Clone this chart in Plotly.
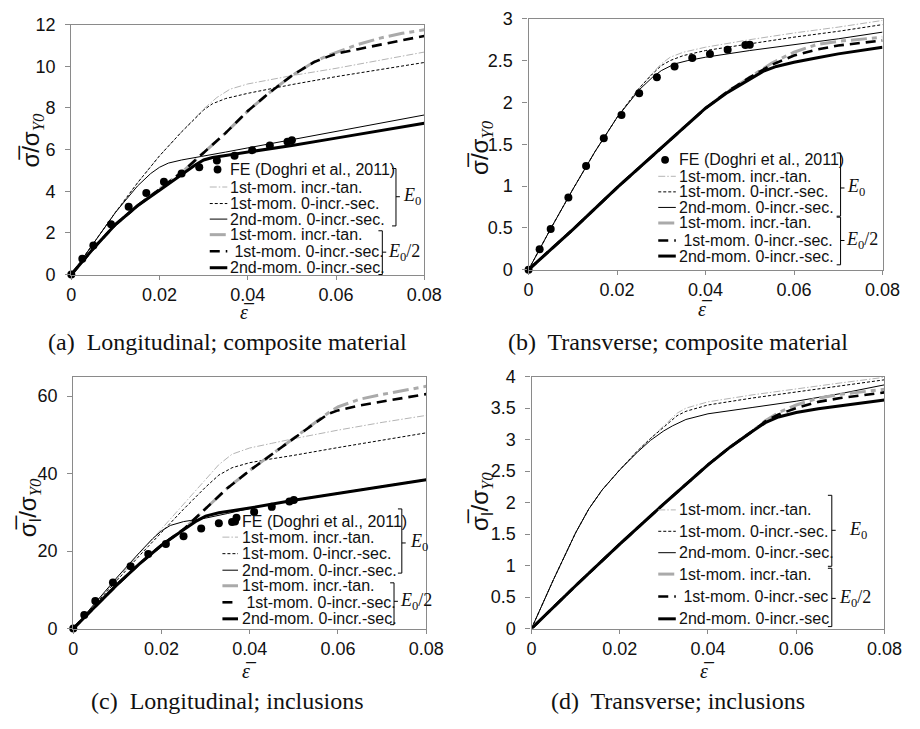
import plotly.graph_objects as go

W, H = 920, 729

# ---------------- DATA ----------------
x_ticks = [0, 0.02, 0.04, 0.06, 0.08]
x_tick_labels = ["0", "0.02", "0.04", "0.06", "0.08"]

# Panel (a) Longitudinal; composite material
fe_a_x = [0, 0.0025, 0.005, 0.009, 0.013, 0.017, 0.021, 0.025, 0.029, 0.033, 0.037, 0.041, 0.045, 0.049, 0.050]
fe_a_y = [0, 0.76, 1.4, 2.41, 3.25, 3.92, 4.46, 4.85, 5.15, 5.47, 5.7, 5.97, 6.2, 6.37, 6.45]
a_e0_tan_x = [0, 0.005, 0.01, 0.015, 0.02, 0.025, 0.03, 0.033, 0.036, 0.04, 0.045, 0.05, 0.06, 0.07, 0.08]
a_e0_tan_y = [0, 1.52, 2.98, 4.4, 5.7, 6.85, 7.95, 8.5, 8.9, 9.15, 9.35, 9.55, 9.9, 10.3, 10.68]
a_e0_sec_x = [0, 0.005, 0.01, 0.015, 0.02, 0.025, 0.03, 0.032, 0.035, 0.04, 0.045, 0.05, 0.06, 0.07, 0.08]
a_e0_sec_y = [0, 1.52, 2.98, 4.4, 5.7, 6.85, 7.9, 8.2, 8.45, 8.7, 8.92, 9.12, 9.5, 9.85, 10.18]
a_e0_2nd_x = [0, 0.005, 0.01, 0.015, 0.018, 0.02, 0.022, 0.025, 0.03, 0.035, 0.04, 0.05, 0.06, 0.07, 0.08]
a_e0_2nd_y = [0, 1.52, 2.98, 4.25, 4.85, 5.15, 5.35, 5.5, 5.68, 5.88, 6.08, 6.48, 6.87, 7.26, 7.66]
a_h_tan_x = [0, 0.005, 0.01, 0.015, 0.02, 0.025, 0.03, 0.035, 0.04, 0.045, 0.05, 0.055, 0.058, 0.06, 0.065, 0.07, 0.075, 0.08]
a_h_tan_y = [0, 1.25, 2.4, 3.3, 4.1, 4.9, 5.85, 6.8, 7.85, 8.75, 9.55, 10.2, 10.5, 10.65, 11.05, 11.35, 11.58, 11.75]
a_h_sec_x = [0, 0.005, 0.01, 0.015, 0.02, 0.025, 0.03, 0.035, 0.04, 0.045, 0.05, 0.055, 0.058, 0.06, 0.065, 0.07, 0.075, 0.08]
a_h_sec_y = [0, 1.25, 2.4, 3.3, 4.1, 4.9, 5.85, 6.8, 7.85, 8.75, 9.55, 10.2, 10.45, 10.6, 10.82, 11.05, 11.25, 11.45]
a_h_2nd_x = [0, 0.005, 0.01, 0.015, 0.02, 0.025, 0.028, 0.03, 0.032, 0.035, 0.04, 0.05, 0.06, 0.07, 0.08]
a_h_2nd_y = [0, 1.25, 2.4, 3.3, 4.05, 4.8, 5.25, 5.5, 5.62, 5.72, 5.87, 6.2, 6.55, 6.9, 7.26]

# Panel (b) Transverse; composite material
fe_b_x = [0, 0.0025, 0.005, 0.009, 0.013, 0.017, 0.021, 0.025, 0.029, 0.033, 0.037, 0.041, 0.045, 0.049, 0.050]
fe_b_y = [0, 0.245, 0.486, 0.863, 1.24, 1.57, 1.85, 2.11, 2.30, 2.43, 2.53, 2.58, 2.63, 2.685, 2.69]
b_e0_tan_x = [0, 0.005, 0.01, 0.015, 0.02, 0.025, 0.028, 0.03, 0.032, 0.035, 0.04, 0.05, 0.06, 0.07, 0.08]
b_e0_tan_y = [0, 0.49, 0.96, 1.41, 1.82, 2.17, 2.35, 2.46, 2.54, 2.6, 2.66, 2.75, 2.83, 2.9, 2.98]
b_e0_sec_x = [0, 0.005, 0.01, 0.015, 0.02, 0.025, 0.028, 0.03, 0.032, 0.035, 0.04, 0.05, 0.06, 0.07, 0.08]
b_e0_sec_y = [0, 0.49, 0.96, 1.41, 1.82, 2.17, 2.34, 2.44, 2.5, 2.56, 2.62, 2.7, 2.78, 2.85, 2.93]
b_e0_2nd_x = [0, 0.005, 0.01, 0.015, 0.02, 0.025, 0.028, 0.03, 0.033, 0.036, 0.04, 0.05, 0.06, 0.07, 0.08]
b_e0_2nd_y = [0, 0.49, 0.96, 1.41, 1.82, 2.15, 2.3, 2.38, 2.46, 2.5, 2.54, 2.62, 2.69, 2.76, 2.84]
b_h_tan_x = [0, 0.01, 0.02, 0.03, 0.04, 0.045, 0.05, 0.055, 0.06, 0.065, 0.07, 0.08]
b_h_tan_y = [0, 0.48, 0.98, 1.46, 1.93, 2.13, 2.3, 2.47, 2.6, 2.69, 2.73, 2.78]
b_h_sec_x = [0, 0.01, 0.02, 0.03, 0.04, 0.045, 0.05, 0.055, 0.06, 0.065, 0.07, 0.08]
b_h_sec_y = [0, 0.48, 0.98, 1.46, 1.93, 2.13, 2.3, 2.45, 2.56, 2.63, 2.68, 2.74]
b_h_2nd_x = [0, 0.01, 0.02, 0.03, 0.04, 0.045, 0.05, 0.053, 0.056, 0.06, 0.065, 0.07, 0.08]
b_h_2nd_y = [0, 0.48, 0.98, 1.46, 1.93, 2.12, 2.28, 2.37, 2.43, 2.48, 2.53, 2.58, 2.66]

# Panel (c) Longitudinal; inclusions
fe_c_x = [0, 0.0025, 0.005, 0.009, 0.013, 0.017, 0.021, 0.025, 0.029, 0.033, 0.036, 0.037, 0.041, 0.045, 0.049, 0.050]
fe_c_y = [0, 3.5, 7.1, 11.9, 16.1, 19.25, 21.8, 23.8, 25.8, 27.2, 27.5, 28.6, 30.1, 31.4, 32.8, 33.2]
c_e0_tan_x = [0, 0.005, 0.01, 0.015, 0.02, 0.025, 0.03, 0.033, 0.036, 0.04, 0.045, 0.05, 0.06, 0.07, 0.08]
c_e0_tan_y = [0, 6.5, 13.0, 19.4, 25.7, 32.0, 38.5, 42.3, 45.0, 46.6, 47.8, 49.0, 51.2, 53.2, 55.0]
c_e0_sec_x = [0, 0.005, 0.01, 0.015, 0.02, 0.025, 0.03, 0.033, 0.036, 0.04, 0.045, 0.05, 0.06, 0.07, 0.08]
c_e0_sec_y = [0, 6.3, 12.6, 18.8, 24.8, 30.8, 36.5, 39.6, 41.5, 42.8, 43.8, 44.7, 46.7, 48.6, 50.5]
c_e0_2nd_x = [0, 0.005, 0.01, 0.015, 0.018, 0.02, 0.022, 0.025, 0.028, 0.03, 0.035, 0.04, 0.05, 0.06, 0.07, 0.08]
c_e0_2nd_y = [0, 6.7, 13.3, 19.6, 23.2, 25.2, 26.6, 27.6, 28.1, 28.5, 29.7, 31.0, 33.2, 35.0, 36.7, 38.5]
c_h_tan_x = [0, 0.005, 0.01, 0.015, 0.02, 0.025, 0.03, 0.035, 0.04, 0.045, 0.05, 0.055, 0.058, 0.06, 0.065, 0.07, 0.075, 0.08]
c_h_tan_y = [0, 5.8, 11.4, 16.7, 21.5, 25.6, 31.0, 36.3, 40.8, 45.0, 49.2, 53.2, 55.8, 57.2, 59.2, 60.4, 61.5, 62.5]
c_h_sec_x = [0, 0.005, 0.01, 0.015, 0.02, 0.025, 0.03, 0.035, 0.04, 0.045, 0.05, 0.055, 0.058, 0.06, 0.065, 0.07, 0.075, 0.08]
c_h_sec_y = [0, 5.8, 11.4, 16.7, 21.5, 25.6, 31.0, 36.3, 40.8, 45.0, 49.2, 53.2, 55.5, 56.3, 57.6, 58.6, 59.6, 60.5]
c_h_2nd_x = [0, 0.005, 0.01, 0.015, 0.02, 0.025, 0.028, 0.03, 0.033, 0.036, 0.04, 0.05, 0.06, 0.07, 0.08]
c_h_2nd_y = [0, 5.8, 11.4, 16.7, 21.5, 25.5, 27.8, 29.0, 29.9, 30.4, 31.1, 33.1, 34.9, 36.7, 38.4]

# Panel (d) Transverse; inclusions
d_e0_tan_x = [0, 0.005, 0.01, 0.013, 0.016, 0.02, 0.024, 0.027, 0.03, 0.033, 0.035, 0.04, 0.05, 0.06, 0.07, 0.08]
d_e0_tan_y = [0, 0.78, 1.52, 1.9, 2.2, 2.52, 2.82, 3.02, 3.22, 3.42, 3.5, 3.6, 3.71, 3.81, 3.9, 3.99]
d_e0_sec_x = [0, 0.005, 0.01, 0.013, 0.016, 0.02, 0.024, 0.027, 0.03, 0.033, 0.035, 0.04, 0.05, 0.06, 0.07, 0.08]
d_e0_sec_y = [0, 0.78, 1.52, 1.9, 2.2, 2.52, 2.82, 3.02, 3.2, 3.38, 3.45, 3.55, 3.66, 3.76, 3.85, 3.95]
d_e0_2nd_x = [0, 0.005, 0.01, 0.013, 0.016, 0.02, 0.024, 0.027, 0.03, 0.032, 0.035, 0.04, 0.05, 0.06, 0.07, 0.08]
d_e0_2nd_y = [0, 0.78, 1.52, 1.9, 2.2, 2.52, 2.8, 2.99, 3.14, 3.22, 3.32, 3.41, 3.51, 3.61, 3.73, 3.87]
d_h_tan_x = [0, 0.01, 0.02, 0.03, 0.04, 0.045, 0.05, 0.053, 0.056, 0.06, 0.065, 0.07, 0.08]
d_h_tan_y = [0, 0.68, 1.34, 1.98, 2.6, 2.88, 3.13, 3.3, 3.43, 3.55, 3.66, 3.72, 3.8]
d_h_sec_x = [0, 0.01, 0.02, 0.03, 0.04, 0.045, 0.05, 0.053, 0.056, 0.06, 0.065, 0.07, 0.08]
d_h_sec_y = [0, 0.68, 1.34, 1.98, 2.6, 2.88, 3.13, 3.29, 3.4, 3.5, 3.6, 3.66, 3.75]
d_h_2nd_x = [0, 0.01, 0.02, 0.03, 0.04, 0.045, 0.05, 0.053, 0.056, 0.06, 0.065, 0.07, 0.08]
d_h_2nd_y = [0, 0.68, 1.34, 1.98, 2.6, 2.88, 3.13, 3.27, 3.36, 3.43, 3.49, 3.54, 3.63]

legend_labels = ["FE (Doghri et al., 2011)", "1st-mom. incr.-tan.", "1st-mom. 0-incr.-sec.",
                 "2nd-mom. 0-incr.-sec.", "1st-mom. incr.-tan.", " 1st-mom. 0-incr.-sec.",
                 "2nd-mom. 0-incr.-sec."]
legend_labels_d = ["1st-mom. incr.-tan.", "1st-mom. 0-incr.-sec.", "2nd-mom. 0-incr.-sec.",
                   "1st-mom. incr.-tan.", " 1st-mom. 0-incr.-sec", "2nd-mom. 0-incr.-sec"]
captions = ["(a)  Longitudinal; composite material", "(b)  Transverse; composite material",
            "(c)  Longitudinal; inclusions", "(d)  Transverse; inclusions"]

# ---------------- STYLES ----------------
ST = {
    "e0_tan": dict(color="#b4b4b4", width=1, dash="7px,2px,1.5px,2px"),
    "e0_sec": dict(color="#000000", width=1, dash="3px,2px"),
    "e0_2nd": dict(color="#000000", width=1),
    "h_tan": dict(color="#aaaaaa", width=3, dash="16px,5px,5px,5px"),
    "h_sec": dict(color="#000000", width=2.6, dash="10px,6px"),
    "h_2nd": dict(color="#000000", width=3),
}
ORDER = ["e0_tan", "e0_sec", "e0_2nd", "h_tan", "h_sec", "h_2nd"]

def px(x):
    return x / W

def py(y):
    return 1 - y / H

panels = [
    dict(ax="", box=(68, 430, 15, 272), yr=[0, 12], yt=[0, 2, 4, 6, 8, 10, 12],
         ytl=["0", "2", "4", "6", "8", "10", "12"],
         fe=(fe_a_x, fe_a_y),
         curves={"e0_tan": (a_e0_tan_x, a_e0_tan_y), "e0_sec": (a_e0_sec_x, a_e0_sec_y),
                 "e0_2nd": (a_e0_2nd_x, a_e0_2nd_y), "h_tan": (a_h_tan_x, a_h_tan_y),
                 "h_sec": (a_h_sec_x, a_h_sec_y), "h_2nd": (a_h_2nd_x, a_h_2nd_y)}),
    dict(ax="2", box=(537, 900, 9, 267), yr=[0, 3], yt=[0, 0.5, 1, 1.5, 2, 2.5, 3],
         ytl=["0", "0.5", "1", "1.5", "2", "2.5", "3"],
         fe=(fe_b_x, fe_b_y),
         curves={"e0_tan": (b_e0_tan_x, b_e0_tan_y), "e0_sec": (b_e0_sec_x, b_e0_sec_y),
                 "e0_2nd": (b_e0_2nd_x, b_e0_2nd_y), "h_tan": (b_h_tan_x, b_h_tan_y),
                 "h_sec": (b_h_sec_x, b_h_sec_y), "h_2nd": (b_h_2nd_x, b_h_2nd_y)}),
    dict(ax="3", box=(70, 432, 377, 636), yr=[0, 65], yt=[0, 20, 40, 60],
         ytl=["0", "20", "40", "60"],
         fe=(fe_c_x, fe_c_y),
         curves={"e0_tan": (c_e0_tan_x, c_e0_tan_y), "e0_sec": (c_e0_sec_x, c_e0_sec_y),
                 "e0_2nd": (c_e0_2nd_x, c_e0_2nd_y), "h_tan": (c_h_tan_x, c_h_tan_y),
                 "h_sec": (c_h_sec_x, c_h_sec_y), "h_2nd": (c_h_2nd_x, c_h_2nd_y)}),
    dict(ax="4", box=(540, 902, 377, 636), yr=[0, 4], yt=[0, 0.5, 1, 1.5, 2, 2.5, 3, 3.5, 4],
         ytl=["0", "0.5", "1", "1.5", "2", "2.5", "3", "3.5", "4"],
         fe=None,
         curves={"e0_tan": (d_e0_tan_x, d_e0_tan_y), "e0_sec": (d_e0_sec_x, d_e0_sec_y),
                 "e0_2nd": (d_e0_2nd_x, d_e0_2nd_y), "h_tan": (d_h_tan_x, d_h_tan_y),
                 "h_sec": (d_h_sec_x, d_h_sec_y), "h_2nd": (d_h_2nd_x, d_h_2nd_y)}),
]

fig = go.Figure()
layout = dict(width=W, height=H, margin=dict(l=0, r=0, t=0, b=0),
              paper_bgcolor="white", plot_bgcolor="white", showlegend=False)

AXC = "#8a8a8a"
TICKFONT = dict(family="Liberation Sans, Arial", size=18, color="#111111")

for p in panels:
    x0, x1, yt_, yb = p["box"]
    xa, ya = "xaxis" + p["ax"], "yaxis" + p["ax"]
    xr, yr = "x" + p["ax"], "y" + p["ax"]
    layout[xa] = dict(domain=[px(x0), px(x1)], range=[0, 0.08], anchor=yr,
                      tickvals=x_ticks, ticktext=x_tick_labels, ticks="outside", ticklen=4,
                      tickcolor=AXC, showline=True, linecolor=AXC, linewidth=1.3, mirror=True,
                      showgrid=False, zeroline=False, tickfont=TICKFONT)
    layout[ya] = dict(domain=[py(yb), py(yt_)], range=p["yr"], anchor=xr,
                      tickvals=p["yt"], ticktext=p["ytl"], ticks="outside", ticklen=5,
                      tickcolor=AXC, showline=True, linecolor=AXC, linewidth=1.3, mirror=True,
                      showgrid=False, zeroline=False, tickfont=TICKFONT, ticklabelstandoff=6)
    for key in ORDER:
        cx, cy = p["curves"][key]
        fig.add_trace(go.Scatter(x=cx, y=cy, mode="lines", line=ST[key], xaxis=xr, yaxis=yr,
                                 cliponaxis=False, hoverinfo="skip"))
    if p["fe"] is not None:
        fig.add_trace(go.Scatter(x=p["fe"][0], y=p["fe"][1], mode="markers",
                                 marker=dict(color="black", size=8), xaxis=xr, yaxis=yr,
                                 cliponaxis=False, name="FE"))

fig.update_layout(**layout)

shapes = []
annotations = []
LEGFONT = dict(family="Liberation Sans, Arial", size=16, color="#111111")
SERIF = "Liberation Serif, Times New Roman, serif"

def legend(text_x, samp_x0, samp_x1, rows, labels, keys, fe_x=None):
    for lab, key, ry in zip(labels, keys, rows):
        if key == "fe":
            shapes.append(dict(type="circle", xref="paper", yref="paper",
                               x0=px(fe_x - 4), x1=px(fe_x + 4), y0=py(ry + 4), y1=py(ry - 4),
                               fillcolor="black", line=dict(color="black", width=0)))
        else:
            st = ST[key]
            shapes.append(dict(type="line", xref="paper", yref="paper",
                               x0=px(samp_x0), x1=px(samp_x1), y0=py(ry), y1=py(ry),
                               line=dict(color=st["color"], width=st["width"],
                                         dash=st.get("dash", "solid"))))
        annotations.append(dict(text=lab, x=px(text_x), y=py(ry), xref="paper", yref="paper",
                                xanchor="left", yanchor="middle", showarrow=False, font=LEGFONT))

def bracket(bx, y0, y1, label, lx, ly):
    path = (f"M {px(bx-4)},{py(y0)} L {px(bx)},{py(y0)} L {px(bx)},{py(y1)} L {px(bx-4)},{py(y1)} "
            f"M {px(bx)},{py(ly)} L {px(bx+4)},{py(ly)}")
    shapes.append(dict(type="path", xref="paper", yref="paper", path=path,
                       line=dict(color="black", width=1)))
    annotations.append(dict(text=label, x=px(lx), y=py(ly), xref="paper", yref="paper",
                            xanchor="left", yanchor="middle", showarrow=False,
                            font=dict(family=SERIF, size=18, color="#111111")))

E0 = "<i>E</i><sub>0</sub>"
E02 = "<i>E</i><sub>0</sub>/2"
keys7 = ["fe"] + ORDER
# (a)
legend(229, 210, 228, [164, 182, 199, 215, 231, 248, 265], legend_labels, keys7, fe_x=218)
bracket(401, 163, 222, E0, 406, 192)
bracket(387, 227, 272, E02, 391, 249)
# (b)
legend(689, 670, 688, [154, 171, 187, 203, 219, 237, 253], legend_labels, keys7, fe_x=677)
bracket(857, 147, 212, E0, 862, 183)
bracket(857, 213, 262, E02, 860, 237)
# (c)
legend(241, 223, 239, [526, 542, 559, 576, 592, 609, 626], legend_labels, keys7, fe_x=236)
bracket(407, 513, 579, E0, 413, 548)
bracket(399, 589, 632, E02, 403, 608)
# (d)
legend(689, 670, 688, [514, 536, 558, 580, 603, 626], legend_labels_d, ORDER)
bracket(848, 499, 572, E0, 864, 535)
bracket(848, 574, 634, E02, 853, 605)

# axis titles
SUBY0 = "<sub><span style='font-family:Liberation Serif'><i>Y0</i></span></sub>"
ytitle_ab = "σ\u0305/σ" + SUBY0
ytitle_cd = "σ\u0305<sub>I</sub>/σ" + SUBY0
for (cx, cy, t) in [(28, 134, ytitle_ab), (488, 141, ytitle_ab), (26, 512, ytitle_cd), (488, 505, ytitle_cd)]:
    annotations.append(dict(text=t, x=px(cx), y=py(cy), xref="paper", yref="paper",
                            xanchor="center", yanchor="middle", showarrow=False, textangle=-90,
                            font=dict(family="Liberation Sans, Arial", size=24, color="#111111")))
for (cx, cy) in [(249, 311), (718, 307), (251, 680), (721, 680)]:
    annotations.append(dict(text="<i>ε\u0305</i>", x=px(cx), y=py(cy), xref="paper", yref="paper",
                            xanchor="center", yanchor="middle", showarrow=False,
                            font=dict(family=SERIF, size=20, color="#111111")))
# captions
for (cx, cy, t) in [(228, 341, captions[0]), (690, 341, captions[1]),
                    (228, 711, captions[2]), (690, 711, captions[3])]:
    annotations.append(dict(text=t, x=px(cx), y=py(cy), xref="paper", yref="paper",
                            xanchor="center", yanchor="middle", showarrow=False,
                            font=dict(family=SERIF, size=24, color="#111111")))

fig.update_layout(shapes=shapes, annotations=annotations)
fig.write_html("out.html")
